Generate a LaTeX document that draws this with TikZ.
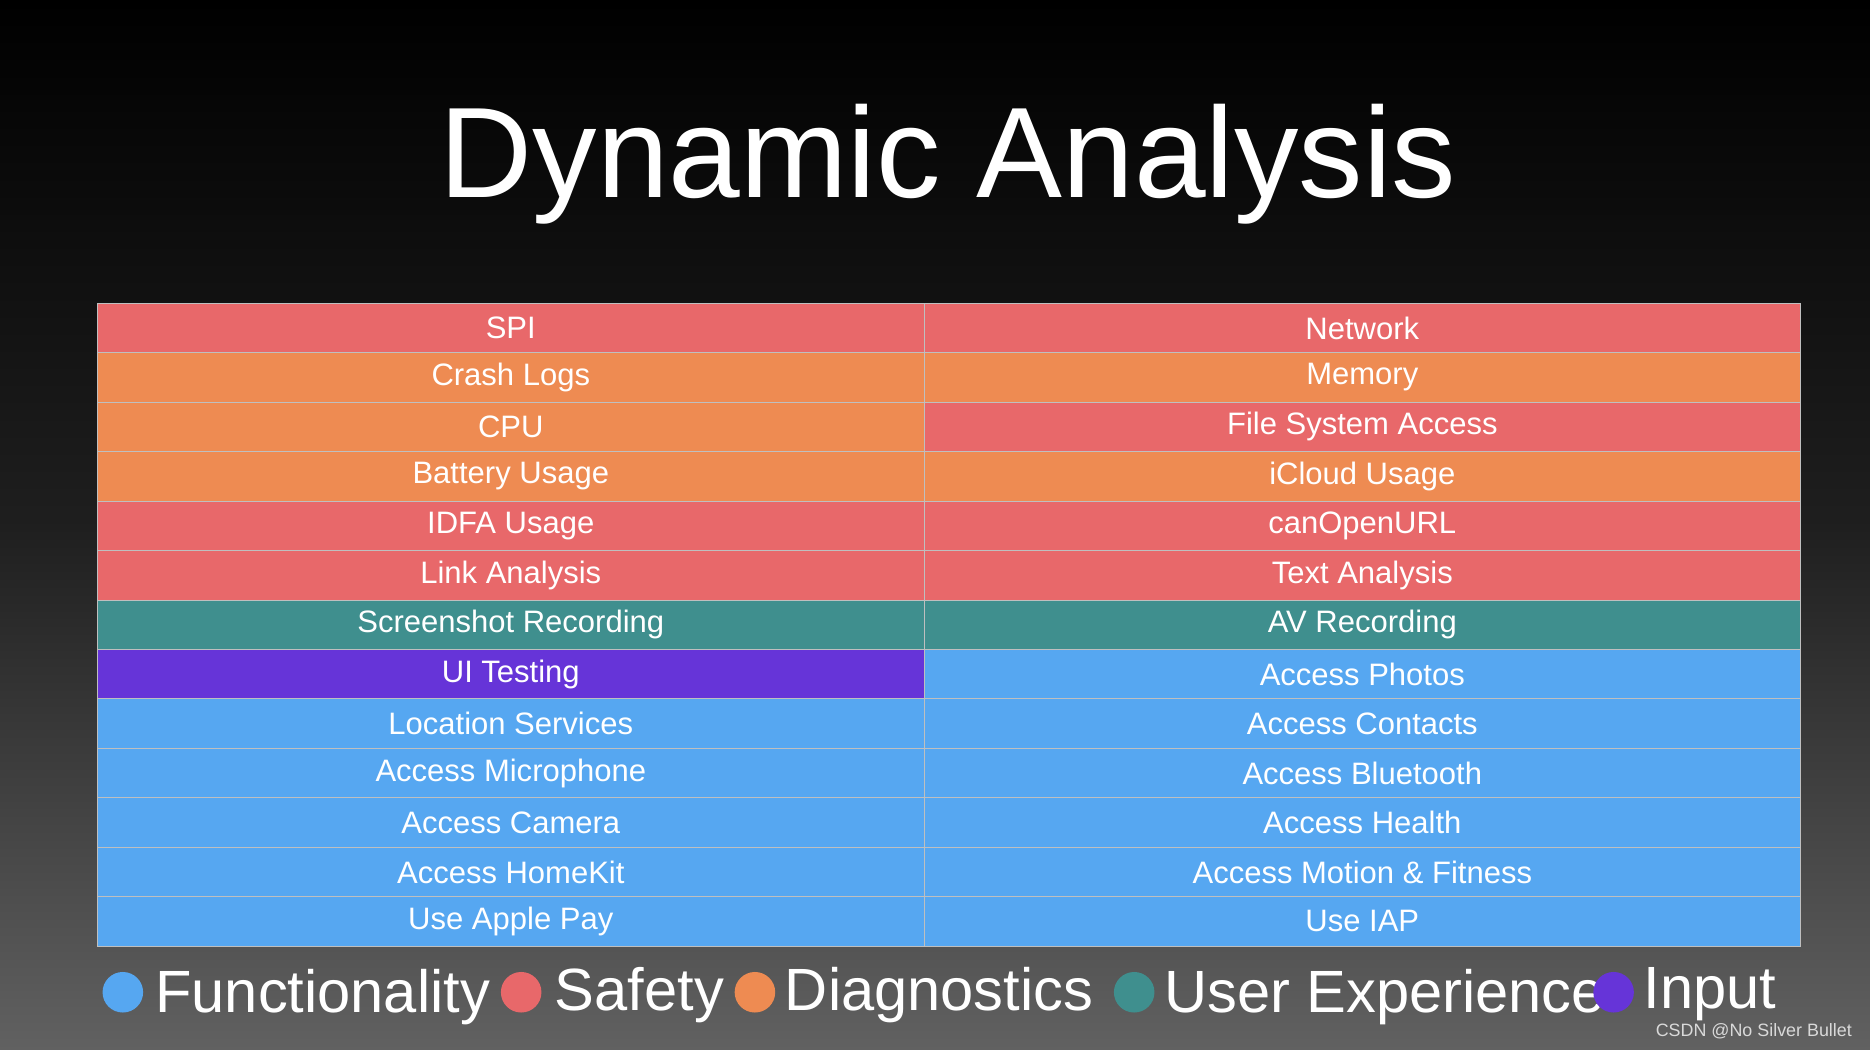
\documentclass[tikz,border=0pt]{standalone}
\usepackage{fontspec}
\setmainfont{Liberation Sans}
\definecolor{cr}{HTML}{E8686A}
\definecolor{co}{HTML}{EE8B52}
\definecolor{ct}{HTML}{3F8F8E}
\definecolor{cp}{HTML}{6634D8}
\definecolor{cb}{HTML}{56A7F1}
\begin{document}
\begin{tikzpicture}[x=1pt,y=-1pt,
  cell/.style={draw=black!25,line width=0.6pt,minimum width=#1,minimum height=41.5pt,inner sep=0pt,text=white,font=\fontsize{26}{26}\selectfont,anchor=north west},
  dot/.style={circle,minimum size=34pt,inner sep=0pt},
  leg/.style={anchor=west,text=white,font=\fontsize{50}{50}\selectfont,inner sep=0pt}]
\shade[top color=black,bottom color=black!62,middle color=black!88] (0,0) rectangle (1568,880);
\useasboundingbox (0,0) rectangle (1568,880);
\node[text=white,font=\fontsize{108}{108}\selectfont] (title) at (795,138) {Dynamic Analysis};
\def\rows{{"cr","SPI","cr","Network"},{"co","Crash Logs","co","Memory"},{"co","CPU","cr","File System Access"},{"co","Battery Usage","co","iCloud Usage"},{"cr","IDFA Usage","cr","canOpenURL"},{"cr","Link Analysis","cr","Text Analysis"},{"ct","Screenshot Recording","ct","AV Recording"},{"cp","UI Testing","cb","Access Photos"},{"cb","Location Services","cb","Access Contacts"},{"cb","Access Microphone","cb","Access Bluetooth"},{"cb","Access Camera","cb","Access Health"},{"cb","Access HomeKit","cb","Access Motion \& Fitness"},{"cb","Use Apple Pay","cb","Use IAP"}}
\foreach \lc/\lt/\rc/\rt [count=\i] in {cr/SPI/cr/Network,co/Crash Logs/co/Memory,co/CPU/cr/File System Access,co/Battery Usage/co/iCloud Usage,cr/IDFA Usage/cr/canOpenURL,cr/Link Analysis/cr/Text Analysis,ct/Screenshot Recording/ct/AV Recording,cp/UI Testing/cb/Access Photos,cb/Location Services/cb/Access Contacts,cb/Access Microphone/cb/Access Bluetooth,cb/Access Camera/cb/Access Health,cb/Access HomeKit/cb/Access Motion \& Fitness,cb/Use Apple Pay/cb/Use IAP}{
  \node[cell=694pt,fill=\lc] (l\i) at (81,{254+(\i-1)*41.46}) {\lt};
  \node[cell=734pt,fill=\rc] (r\i) at (775,{254+(\i-1)*41.46}) {\rt};
}
\node[dot,fill=cb] (d1) at (103,832) {};
\node[leg] (t1) at (130,836) {Functionality};
\node[dot,fill=cr] (d2) at (437,832) {};
\node[leg] (t2) at (465,834) {Safety};
\node[dot,fill=co] (d3) at (633,832) {};
\node[leg] (t3) at (658,834) {Diagnostics};
\node[dot,fill=ct] (d4) at (951,832) {};
\node[leg] (t4) at (976,836) {User Experience};
\node[dot,fill=cp] (d5) at (1353,832) {};
\node[leg] (t5) at (1378,834) {Input};
\node[anchor=east,text=white!85!black,font=\fontsize{15}{15}\selectfont,inner sep=0pt] (wm) at (1553,865) {CSDN @No Silver Bullet};
\end{tikzpicture}
\end{document}
